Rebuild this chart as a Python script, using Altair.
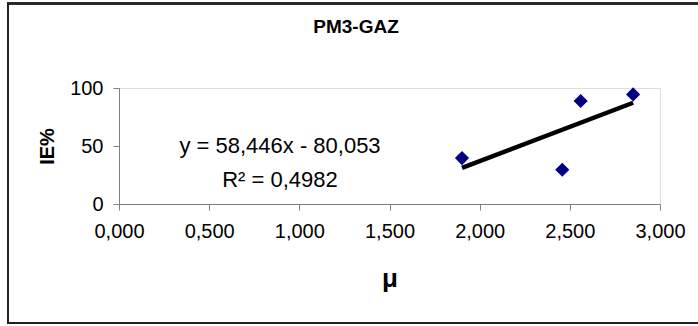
import altair as alt
import pandas as pd

mu = [1.902, 2.458, 2.560, 2.851]
ie = [39.6, 29.5, 88.8, 94.5]
x_ticks = [0, 0.5, 1.0, 1.5, 2.0, 2.5, 3.0]
y_ticks = [0, 50, 100]
title_text = "PM3-GAZ"
eq_line1 = "y = 58,446x - 80,053"
eq_line2 = "R\u00b2 = 0,4982"

df = pd.DataFrame({"mu": mu, "ie": ie})

FONT = "Liberation Sans"

xs = alt.Scale(domain=[0, 3], nice=False, zero=False)
ys = alt.Scale(domain=[0, 100], nice=False)

xaxis = alt.Axis(
    values=x_ticks,
    labelExpr="replace(format(datum.value, '.3f'), '.', ',')",
    labelFlush=False, labelOverlap=False,
    grid=False, domainColor="#808080", tickColor="#808080", tickSize=6,
    labelFont=FONT, labelFontSize=20, labelColor="black", labelPadding=11,
    titleFont=FONT, titleFontSize=26, titleFontWeight="bold", titleColor="black",
    titlePadding=24,
)
yaxis = alt.Axis(
    values=y_ticks, format="d",
    labelFlush=False, labelOverlap=False,
    grid=False, domainColor="#808080", tickColor="#808080", tickSize=6,
    labelFont=FONT, labelFontSize=20, labelColor="black", labelPadding=10,
    titleFont=FONT, titleFontSize=20, titleFontWeight="bold", titleColor="black",
    titlePadding=12,
)

base = alt.Chart(df)

border = base.mark_rect(fill=None, stroke="#222222", strokeWidth=2).encode(
    x=alt.value(-111), x2=alt.value(582), y=alt.value(-84.5), y2=alt.value(235)
)

points = base.mark_point(shape="diamond", filled=True, size=200, color="#000080", opacity=1).encode(
    x=alt.X("mu:Q", scale=xs, axis=xaxis, title="\u03bc"),
    y=alt.Y("ie:Q", scale=ys, axis=yaxis, title="IE%"),
)

trend = base.transform_regression("mu", "ie").mark_line(color="black", strokeWidth=4.5).encode(
    x=alt.X("mu:Q", scale=xs, axis=xaxis, title="\u03bc"),
    y=alt.Y("ie:Q", scale=ys, axis=yaxis, title="IE%"),
)

def label(txt, x, y, size, weight="normal"):
    return alt.Chart(pd.DataFrame({"t": [txt]})).mark_text(
        font=FONT, fontSize=size, fontWeight=weight, color="black",
        align="center", baseline="middle"
    ).encode(x=alt.value(x), y=alt.value(y), text="t:N")

eq1 = label(eq_line1, 161, 58, 22)
eq2 = label(eq_line2, 161, 92, 22)
ttl = label(title_text, 237, -61, 19, "bold")

chart = alt.layer(border, trend, points, eq1, eq2, ttl).properties(
    width=541, height=116,
    padding={"left": 119, "top": 88, "right": 38, "bottom": 122},
    autosize=alt.AutoSizeParams(type="none"),
).configure_view(stroke=None).configure(background="white")

chart.save("out.html", embed_options={"renderer": "svg", "actions": False})
